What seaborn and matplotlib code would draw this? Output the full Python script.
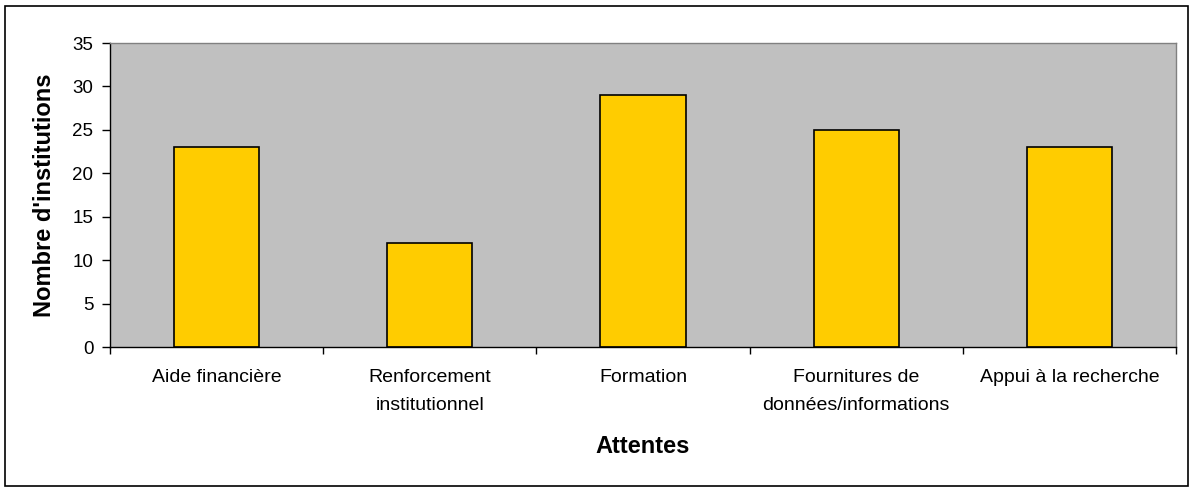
import matplotlib
matplotlib.use("Agg")
import matplotlib.pyplot as plt
import seaborn as sns
import pandas as pd
from matplotlib.patches import Rectangle

categories = [
    "Aide financière",
    "Renforcement\ninstitutionnel",
    "Formation",
    "Fournitures de\ndonnées/informations",
    "Appui à la recherche",
]
values = [23, 12, 29, 25, 23]
y_ticks = [0, 5, 10, 15, 20, 25, 30, 35]

sns.set_theme(style="white")
plt.rcParams["font.family"] = ["Liberation Sans", "DejaVu Sans"]
plt.rcParams["text.color"] = "black"
plt.rcParams["axes.labelcolor"] = "black"
plt.rcParams["xtick.color"] = "black"
plt.rcParams["ytick.color"] = "black"

df = pd.DataFrame({"Attentes": categories, "Nombre": values})

fig = plt.figure(figsize=(11.92, 4.88), dpi=100)
ax = fig.add_axes([110 / 1192, 1 - 347 / 488, (1176 - 110) / 1192, (347 - 43) / 488])

sns.barplot(data=df, x="Attentes", y="Nombre", color="#FFCC00", edgecolor="black",
            linewidth=1.2, width=0.4, saturation=1, ax=ax)
ax.set_facecolor("#C0C0C0")
ax.set_xlim(-0.5, len(categories) - 0.5)
ax.set_ylim(0, 35)
ax.set_yticks(y_ticks)
ax.set_yticklabels([str(t) for t in y_ticks], fontsize=13.5)

# category boundaries as tick marks, labels centred under each bar
ax.set_xticks([i - 0.5 for i in range(len(categories) + 1)])
ax.set_xticklabels([])
ax.set_xticks(range(len(categories)), minor=True)
ax.set_xticklabels(categories, minor=True, fontsize=14, linespacing=1.8)
ax.tick_params(axis="x", which="major", direction="out", length=5, width=1, color="black", bottom=True)
ax.tick_params(axis="x", which="minor", length=0, pad=16)
ax.tick_params(axis="y", direction="out", length=6, width=1, color="black", left=True, pad=6)

for side in ["left", "bottom"]:
    ax.spines[side].set_color("black")
    ax.spines[side].set_linewidth(1)
for side in ["top", "right"]:
    ax.spines[side].set_color("#808080")
    ax.spines[side].set_linewidth(1)

ax.set_xlabel("Attentes", fontsize=17, fontweight="bold", labelpad=15.5)
ax.set_ylabel("Nombre d'institutions", fontsize=17, fontweight="bold", labelpad=12)

fig.patches.append(Rectangle((5 / 1192, 2 / 488), 1183 / 1192, 480 / 488, transform=fig.transFigure,
                             fill=False, edgecolor="black", linewidth=1.2))

fig.savefig("out.png", dpi=100, facecolor="white")
